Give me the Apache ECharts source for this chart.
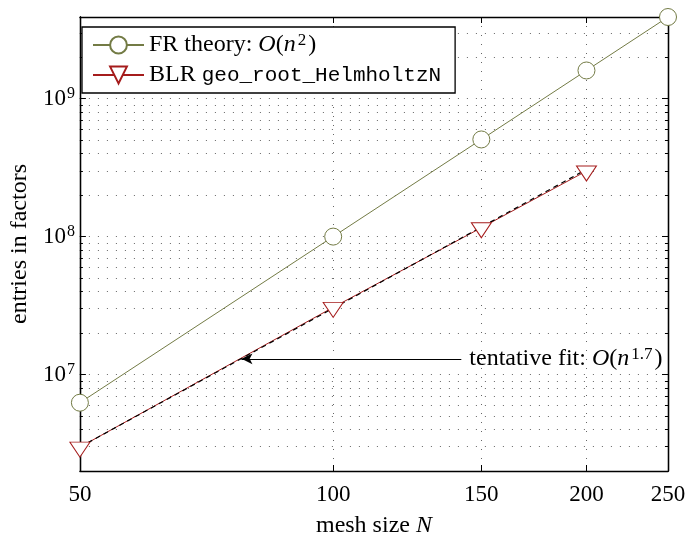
<!DOCTYPE html>
<html><head><meta charset="utf-8">
<script src="https://cdn.jsdelivr.net/npm/echarts@6/dist/echarts.min.js"></script>
<style>html,body{margin:0;padding:0;background:#fff}#c{width:689px;height:543px}</style>
</head><body><div id="c"></div>
<script>
// ---- data ----
const meshSizes = [50, 100, 150, 200, 250];
const frValues = [6.25e6, 1.0e8, 5.06e8, 1.6e9, 3.906e9];
const blrSizes = [50, 100, 150, 200];
const blrValues = [2.98e6, 3.07e7, 1.16e8, 2.99e8];
const fitSizes = [50, 200];
const fitValues = [2.98e6, 3.07e8];
const xTickValues = [50, 100, 150, 200, 250];
const yMajorTicks = [1e7, 1e8, 1e9];
const yMinorTicks = [2e6, 3e6, 4e6, 5e6, 6e6, 7e6, 8e6, 9e6,
                     2e7, 3e7, 4e7, 5e7, 6e7, 7e7, 8e7, 9e7,
                     2e8, 3e8, 4e8, 5e8, 6e8, 7e8, 8e8, 9e8,
                     2e9, 3e9];
const arrowTail = [142, 1.3e7];
const arrowHead = [77.8, 1.3e7];
const xRange = [50, 250];
const yRange = [2e6, 3.906e9];

// ---- styles ----
const SERIF = '"Liberation Serif", "DejaVu Serif", serif';
const MONO = '"Liberation Mono", "DejaVu Sans Mono", monospace';
const OLIVE = '#737b45';
const RED = '#a51c1c';
const GRID_DOT = {color: '#666', width: 1, type: [1, 8]};
function makeRich(fs, sup) {
  return {
    r: {fontFamily: SERIF, fontSize: fs, lineHeight: 26, color: '#000'},
    i: {fontFamily: SERIF, fontSize: fs, fontStyle: 'italic', lineHeight: 26, color: '#000'},
    s: {fontFamily: SERIF, fontSize: sup, lineHeight: sup, verticalAlign: 'top', color: '#000', padding: [0, 2, 0, 2]},
    m: {fontFamily: MONO, fontSize: 21, lineHeight: 26, color: '#000'}
  };
}
const tickRich = makeRich(23, 16);
tickRich.s.padding = [0, 0, 0, 1];
const textRich = makeRich(24, 17);
const allYTicks = yMinorTicks.concat(yMajorTicks).sort((a, b) => a - b);

function yAxisDef(pos, ticks, len, withLabels) {
  return {
    type: 'log', logBase: 10, position: pos, min: yRange[0], max: yRange[1],
    axisLine: {show: true, lineStyle: {color: '#000', width: 1.3}},
    axisTick: {show: true, inside: true, length: len, customValues: ticks, lineStyle: {color: '#000', width: 1}},
    axisLabel: withLabels ? {
      show: true, customValues: yMajorTicks, margin: 5,
      formatter: v => '{r|10}{s|' + Math.round(Math.log10(v)) + '}',
      rich: tickRich
    } : {show: false},
    splitLine: withLabels ? {show: true, lineStyle: GRID_DOT} : {show: false},
    minorTick: {show: false}, minorSplitLine: {show: false}
  };
}
function xAxisDef(pos, withLabels) {
  return {
    type: 'log', logBase: 10, position: pos, min: xRange[0], max: xRange[1],
    axisLine: {show: true, lineStyle: {color: '#000', width: 1.3}},
    axisTick: {show: true, inside: true, length: 6, customValues: xTickValues, lineStyle: {color: '#000', width: 1}},
    axisLabel: withLabels ? {show: true, customValues: xTickValues, margin: 12,
      fontFamily: SERIF, fontSize: 23, color: '#000'} : {show: false},
    splitLine: withLabels ? {show: true, lineStyle: GRID_DOT} : {show: false},
    name: withLabels ? '{r|mesh size }{i|N}' : '',
    nameLocation: 'middle', nameGap: 42,
    nameTextStyle: {fontFamily: SERIF, fontSize: 24, color: '#000', rich: textRich}
  };
}

const yLeft = yAxisDef('left', allYTicks, 3, true);
yLeft.name = 'entries in factors';
yLeft.nameLocation = 'middle';
yLeft.nameGap = 46;
yLeft.nameTextStyle = {fontFamily: SERIF, fontSize: 24, color: '#000'};

const chart = echarts.init(document.getElementById('c'), null, {renderer: 'canvas'});
chart.setOption({
  animation: false,
  backgroundColor: '#fff',
  grid: {left: 74, right: 21, top: 17, bottom: 67, containLabel: false},
  xAxis: [xAxisDef('bottom', true), xAxisDef('top', false)],
  yAxis: [
    yLeft,
    yAxisDef('left', yMajorTicks, 6, false),
    yAxisDef('right', allYTicks, 3, false),
    yAxisDef('right', yMajorTicks, 6, false)
  ],
  legend: {
    data: ['FR', 'BLR'],
    orient: 'vertical', left: 82, top: 27,
    padding: [5, 14, 5, 10], itemGap: 4, itemWidth: 51, itemHeight: 21,
    backgroundColor: '#fff', borderColor: '#000', borderWidth: 1.3, borderRadius: 0,
    formatter: name => name === 'FR' ? '{r|FR theory: }{i|O}{r|(}{i|n}{s|2}{r|)}' : '{r|BLR }{m|geo_root_HelmholtzN}',
    textStyle: {fontFamily: SERIF, fontSize: 24, color: '#000', lineHeight: 26, rich: textRich}
  },
  series: [
    {
      name: 'FR', type: 'line', xAxisIndex: 0, yAxisIndex: 0,
      data: meshSizes.map((x, k) => [x, frValues[k]]),
      symbol: 'circle', symbolSize: 17,
      itemStyle: {color: '#fff', borderColor: OLIVE, borderWidth: 1},
      lineStyle: {color: OLIVE, width: 1}
    },
    {
      name: 'BLR', type: 'line', xAxisIndex: 0, yAxisIndex: 0,
      data: blrSizes.map((x, k) => [x, blrValues[k]]),
      symbol: 'triangle', symbolRotate: 180, symbolSize: [20, 15], symbolOffset: [0, 2.5],
      itemStyle: {color: '#fff', borderColor: RED, borderWidth: 1},
      lineStyle: {color: RED, width: 1}
    },
    {
      name: 'fit', type: 'line', xAxisIndex: 0, yAxisIndex: 0,
      data: fitSizes.map((x, k) => [x, fitValues[k]]),
      symbol: 'none',
      lineStyle: {color: '#000', width: 1.2, type: [5, 4]},
      markLine: {
        silent: true, symbol: ['none', 'arrow'], symbolSize: [8, 11],
        lineStyle: {color: '#000', width: 1, type: 'solid'},
        label: {
          show: true, position: 'start', distance: 8, color: '#000',
          formatter: '{r|tentative fit: }{i|O}{r|(}{i|n}{s|1.7}{r|)}',
          rich: textRich
        },
        data: [[{coord: arrowTail}, {coord: arrowHead}]]
      }
    }
  ]
});
</script></body></html>
